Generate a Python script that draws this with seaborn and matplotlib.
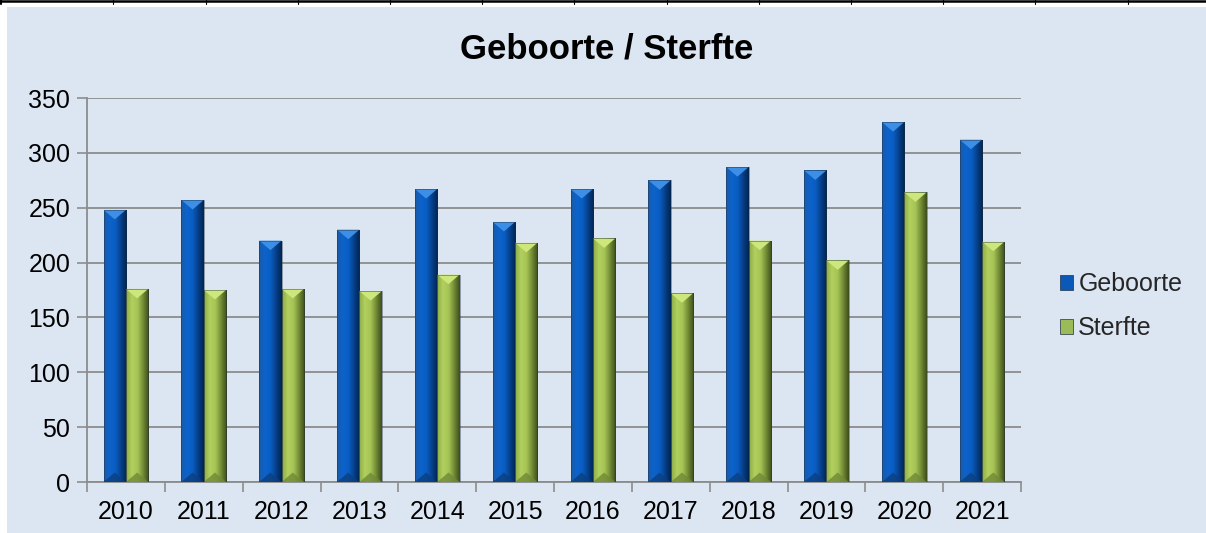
import matplotlib
matplotlib.use("Agg")
import matplotlib.pyplot as plt
import numpy as np
import pandas as pd
import seaborn as sns
from matplotlib.patches import Patch, Polygon, Rectangle
from matplotlib.lines import Line2D
from matplotlib.colors import LinearSegmentedColormap

years = ["2010", "2011", "2012", "2013", "2014", "2015",
         "2016", "2017", "2018", "2019", "2020", "2021"]
geboorte = [248, 257, 220, 230, 267, 237, 267, 275, 287, 284, 328, 312]
sterfte = [176, 175, 176, 174, 189, 218, 222, 172, 220, 202, 264, 219]
series_names = ["Geboorte", "Sterfte"]
title = "Geboorte / Sterfte"
yticks = [0, 50, 100, 150, 200, 250, 300, 350]

df = pd.DataFrame({
    "Jaar": years * 2,
    "Aantal": geboorte + sterfte,
    "Reeks": [series_names[0]] * len(years) + [series_names[1]] * len(years),
})

sns.set_theme(style="white")
plt.rcParams["font.family"] = ["Liberation Sans", "DejaVu Sans"]

BG = "#dce6f2"
colors = {"Geboorte": "#0a58b8", "Sterfte": "#9bbb59"}
grad = {
    "Geboorte": ["#1c5aa6", "#0b63cc", "#0a5ec2", "#063f8a", "#022550"],
    "Sterfte": ["#8cab48", "#b2d05e", "#a7c556", "#728c36", "#3e4d1c"],
}
tops = {"Geboorte": "#3d8fe6", "Sterfte": "#cde77c"}
bottoms = {"Geboorte": "#0b3f80", "Sterfte": "#6f8a35"}

fig = plt.figure(figsize=(12.06, 5.33), dpi=100, facecolor="white")
fig.patches.append(Rectangle((7 / 1206, 0), 1, 1 - 7 / 533, transform=fig.transFigure,
                             facecolor=BG, edgecolor="none", zorder=-10))
# table rule at top
fig.add_artist(Line2D([0, 1], [1 - 1.2 / 533, 1 - 1.2 / 533], transform=fig.transFigure,
                      color="black", lw=1.8))
for k in range(12):
    xp = (113.3 + 92.2 * k) / 1206
    fig.add_artist(Line2D([xp, xp], [1, 1 - 4 / 533], transform=fig.transFigure,
                          color="black", lw=0.8))
fig.add_artist(Line2D([1 / 1206, 1 / 1206], [1, 1 - 4 / 533], transform=fig.transFigure,
                      color="black", lw=1.5))

ax = fig.add_axes([87 / 1206, 51 / 533, 934 / 1206, 384 / 533])
ax.set_facecolor("none")

sns.barplot(data=df, x="Jaar", y="Aantal", hue="Reeks", order=years,
            hue_order=series_names, palette=colors, width=0.575, gap=0.005,
            ax=ax, legend=False, saturation=1, edgecolor="none", zorder=3)

ax.set_ylim(0, 350)
ax.set_xlim(-0.5, len(years) - 0.5)

# bevel shading for each bar
pix_per_unit = 384 / 350
n = len(years)
for i, p in enumerate(list(ax.patches)[: 2 * n]):
    name = series_names[i // n]
    x0, y0 = p.get_x(), p.get_y()
    w, h = p.get_width(), p.get_height()
    cmap = LinearSegmentedColormap.from_list("g" + name, grad[name])
    g = np.linspace(0, 1, 64).reshape(1, -1)
    im = ax.imshow(g, extent=[x0, x0 + w, y0, y0 + h], aspect="auto", cmap=cmap,
                   origin="lower", zorder=3.1, interpolation="bilinear")
    im.set_clip_path(p)
    tri_h = 9.5 / pix_per_unit
    ax.add_patch(Polygon([[x0, y0 + h], [x0 + w, y0 + h], [x0 + w / 2, y0 + h - tri_h]],
                         closed=True, facecolor=tops[name], edgecolor="none", zorder=3.2))
    ax.add_patch(Polygon([[x0, y0], [x0 + w, y0], [x0 + w / 2, y0 + tri_h]],
                         closed=True, facecolor=bottoms[name], edgecolor="none", zorder=3.2,
                         alpha=0.8))
    ax.add_patch(Rectangle((x0, y0), w, h, facecolor="none", edgecolor="#203040",
                           lw=0.6, alpha=0.5, zorder=3.3))

ax.set_xlim(-0.5, len(years) - 0.5)
ax.set_ylim(0, 350)

ax.set_yticks(yticks)
ax.set_yticklabels([str(v) for v in yticks])
ax.yaxis.grid(True, color="#8c8c8c", lw=1.3, zorder=0)
ax.set_axisbelow(True)
ax.tick_params(axis="y", length=7, width=1.2, color="#8c8c8c", labelsize=18,
               pad=5, left=True, labelcolor="black", direction="out")
ax.tick_params(axis="x", which="major", length=0, labelsize=18, pad=13, labelcolor="black")
ax.set_xticks(np.arange(-0.5, len(years), 1.0), minor=True)
ax.tick_params(axis="x", which="minor", length=7, width=1.2, color="#8c8c8c",
               direction="out", bottom=True)
for s in ["top", "right"]:
    ax.spines[s].set_visible(False)
for s in ["left", "bottom"]:
    ax.spines[s].set_visible(True)
    ax.spines[s].set_color("#8c8c8c")
    ax.spines[s].set_linewidth(1.3)
ax.set_xlabel("")
ax.set_ylabel("")

fig.text(607 / 1206, 1 - 49 / 533, title, ha="center", va="center",
         fontsize=25, fontweight="bold", color="black")

handles = [Patch(facecolor=colors[nm], edgecolor="#203040", lw=0.5) for nm in series_names]
fig.legend(handles, series_names, loc="center left",
           bbox_to_anchor=(1047 / 1206, 1 - 306 / 533), frameon=False,
           fontsize=18, handlelength=0.55, handleheight=0.55, handletextpad=0.2,
           labelspacing=0.8, borderpad=0)

fig.savefig("out.png", dpi=100, facecolor="white")
